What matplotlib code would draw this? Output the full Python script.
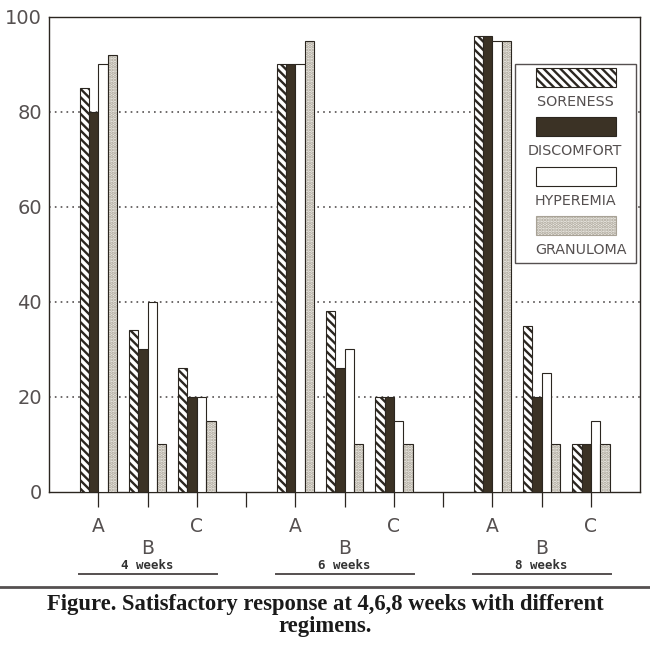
import numpy as np
import matplotlib
matplotlib.use("Agg")
import matplotlib.pyplot as plt
from matplotlib.patches import Rectangle
from matplotlib.lines import Line2D

weeks = ["4 weeks", "6 weeks", "8 weeks"]
regimens = ["A", "B", "C"]
series = ["SORENESS", "DISCOMFORT", "HYPEREMIA", "GRANULOMA"]

# values per week: A, B, C
soreness = [85, 34, 26, 90, 38, 20, 96, 35, 10]
discomfort = [80, 30, 20, 90, 26, 20, 96, 20, 10]
hyperemia = [90, 40, 20, 90, 30, 15, 95, 25, 15]
granuloma = [92, 10, 15, 95, 10, 10, 95, 10, 10]

yticks = [0, 20, 40, 60, 80, 100]

plt.rcParams["hatch.linewidth"] = 1.7
plt.rcParams["font.family"] = ["DejaVu Sans"]

ink = "#2b2620"
dark = "#3b3225"
dotface = "#eeece6"
dotcol = "#a8a296"

fig = plt.figure(figsize=(6.5, 6.49), dpi=100)
ax = fig.add_axes([0.0754, 0.242, 0.9096, 0.732])

pos = np.array([1 + 4 * g + c for g in range(3) for c in range(3)], dtype=float)
w = 0.19

ax.bar(pos - 1.5 * w, soreness, w, facecolor="white", edgecolor=ink,
       hatch="\\\\\\\\", linewidth=0.8, zorder=3)
ax.bar(pos - 0.5 * w, discomfort, w, facecolor=dark, edgecolor=ink,
       linewidth=0.8, zorder=3)
ax.bar(pos + 0.5 * w, hyperemia, w, facecolor="white", edgecolor=ink,
       linewidth=0.8, zorder=3)
ax.bar(pos + 1.5 * w, granuloma, w, facecolor=dotface, edgecolor=dotcol,
       hatch=".....", linewidth=0, zorder=3)
ax.bar(pos + 1.5 * w, granuloma, w, facecolor="none", edgecolor=ink,
       linewidth=0.8, zorder=4)

ax.set_xlim(0, 12)
ax.set_ylim(0, 100)
ax.set_yticks(yticks)
ax.set_yticklabels([str(v) for v in yticks], fontsize=14, color="#555050")
ax.tick_params(axis="y", length=0, pad=5)

xt = list(range(1, 12))
xl = []
for g in range(3):
    xl += ["A", "\nB", "C"]
    if g < 2:
        xl.append("")
ax.set_xticks(xt)
ax.set_xticklabels(xl, fontsize=13.5, color="#555050")
ax.tick_params(axis="x", direction="out", length=11, width=0.9, color=ink, pad=7)

for yv in yticks[1:-1]:
    ax.axhline(yv, color="#555050", linestyle=(0, (1, 2.5)), linewidth=1.2, zorder=1)

for s in ax.spines.values():
    s.set_color(ink)
    s.set_linewidth(1.0)

# week labels with underline
trans = ax.get_xaxis_transform()
for g, name in enumerate(weeks):
    cx = 2 + 4 * g
    ax.text(cx, -0.155, name, transform=trans, ha="center", va="center",
            fontsize=9, family="DejaVu Sans Mono", weight="bold", color="#333")
    ax.add_line(Line2D([cx - 1.4, cx + 1.4], [-0.173, -0.173], transform=trans,
                       color="#555050", linewidth=1.4, clip_on=False))

# legend box drawn by hand, patches above labels
ax.add_patch(Rectangle((0.788, 0.482), 0.205, 0.419, transform=ax.transAxes,
                       facecolor="white", edgecolor="#555050", linewidth=1.0, zorder=5))
styles = [
    dict(facecolor="white", edgecolor=ink, hatch="\\\\\\\\"),
    dict(facecolor=dark, edgecolor=ink),
    dict(facecolor="white", edgecolor=ink),
    dict(facecolor=dotface, edgecolor=dotcol, hatch="....."),
]
for i, (name, st) in enumerate(zip(series, styles)):
    y0 = 0.853 - i * 0.104
    ax.add_patch(Rectangle((0.824, y0), 0.135, 0.04, transform=ax.transAxes,
                           linewidth=0.8, zorder=6, **st))
    ax.text(0.89 if i < 3 else 0.9, y0 - 0.032, name, transform=ax.transAxes,
            ha="center", va="center", fontsize=10.3, color="#555050", zorder=6)

fig.add_artist(Line2D([0, 1], [0.0955, 0.0955], transform=fig.transFigure,
                      color="#555050", linewidth=2))
fig.text(0.5, 0.052, "Figure. Satisfactory response at 4,6,8 weeks with different\nregimens.",
         ha="center", va="center", fontsize=16.3, family="Liberation Serif",
         weight="bold", color="#1a1a1a", linespacing=1.05)

fig.savefig("out.png", dpi=100)
